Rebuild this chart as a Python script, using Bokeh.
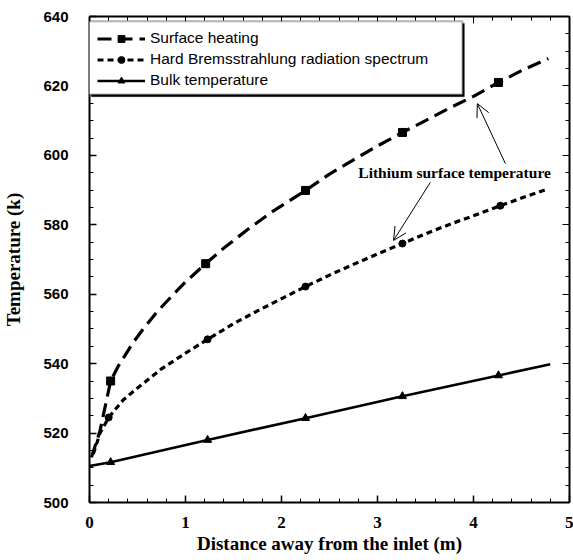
from bokeh.plotting import figure
from bokeh.models import (LinearAxis, Range1d, BoxAnnotation, Legend, LegendItem,
                          Arrow, OpenHead, FixedTicker, CustomJSTickFormatter)
from bokeh.core.properties import value
from bokeh.embed import file_html
from bokeh.resources import INLINE

# ---- data ----
surf_x = [0.02, 0.11, 0.22, 0.3, 0.45, 0.56, 0.7, 0.875, 1.0, 1.21, 1.4, 1.65, 1.9, 2.25,
          2.5, 2.75, 3.0, 3.26, 3.5, 3.75, 4.0, 4.26, 4.5, 4.78]
surf_t = [513.0, 520.7, 535.0, 539.3, 545.9, 550.0, 554.8, 560.0, 563.5, 568.8, 573.3, 578.7,
          583.7, 589.9, 594.6, 598.7, 602.7, 606.6, 610.0, 613.6, 617.0, 621.0, 624.4, 627.9]
surf_mx = [0.22, 1.21, 2.25, 3.26, 4.26]
surf_mt = [535.0, 568.8, 589.9, 606.6, 621.0]

brem_x = [0.04, 0.11, 0.2, 0.35, 0.5, 0.75, 1.0, 1.23, 1.5, 1.75, 2.0, 2.25, 2.5, 2.75,
          3.0, 3.26, 3.5, 3.75, 4.0, 4.28, 4.5, 4.78]
brem_t = [514.0, 520.0, 524.5, 529.5, 533.0, 538.5, 543.0, 547.0, 551.5, 555.2, 558.7, 562.2,
          565.5, 568.6, 571.6, 574.6, 577.4, 580.1, 582.6, 585.5, 587.7, 590.4]
brem_mx = [0.2, 1.23, 2.25, 3.26, 4.28]
brem_mt = [524.5, 547.0, 562.2, 574.6, 585.5]

bulk_x = [0.0, 0.22, 1.23, 2.25, 3.26, 4.26, 4.8]
bulk_t = [510.5, 511.6, 518.0, 524.3, 530.6, 536.6, 539.8]
bulk_mx = [0.22, 1.23, 2.25, 3.26, 4.26]
bulk_mt = [511.6, 518.0, 524.3, 530.6, 536.6]

x_ticks = [0, 1, 2, 3, 4, 5]
y_ticks = [500, 520, 540, 560, 580, 600, 620, 640]
x_minor = [i * 0.2 for i in range(26)]
y_minor = list(range(500, 641, 5))

labels = ["Surface heating", "Hard Bremsstrahlung radiation spectrum", "Bulk temperature"]
note = "Lithium surface temperature"

p = figure(width=573, height=560, output_backend="svg", toolbar_location=None,
           x_range=Range1d(0, 5), y_range=Range1d(500, 640),
           min_border_left=89, min_border_top=16, min_border_right=4, min_border_bottom=58,
           x_axis_label="Distance away from the inlet (m)", y_axis_label="Temperature (k)")
p.xgrid.visible = False
p.ygrid.visible = False
p.outline_line_color = None
p.background_fill_color = "white"
p.border_fill_color = "white"

p.xaxis.ticker = FixedTicker(ticks=x_ticks, minor_ticks=x_minor)
p.yaxis.ticker = FixedTicker(ticks=y_ticks, minor_ticks=y_minor)

for ax in p.xaxis + p.yaxis:
    ax.axis_line_width = 2
    ax.axis_line_color = "black"
    ax.major_tick_in = 7
    ax.major_tick_out = 0
    ax.minor_tick_in = 4
    ax.minor_tick_out = 0
    ax.major_tick_line_width = 1.5
    ax.major_tick_line_color = "black"
    ax.minor_tick_line_color = "black"
    ax.major_label_text_color = "black"
    ax.axis_label_text_font = "Liberation Serif"
    ax.axis_label_text_font_style = "bold"
    ax.axis_label_text_font_size = "19px"
    ax.axis_label_text_color = "black"

p.xaxis.major_label_text_font = "Liberation Serif"
p.xaxis.major_label_text_font_style = "bold"
p.xaxis.major_label_text_font_size = "17px"
p.xaxis.major_label_standoff = 14
p.xaxis.axis_label_standoff = 2

p.yaxis.major_label_text_font = "Liberation Sans"
p.yaxis.major_label_text_font_style = "bold"
p.yaxis.major_label_text_font_size = "15px"
p.yaxis.major_label_standoff = 21
p.yaxis.axis_label_standoff = 16

# mirrored axes (ticks only)
for loc, tk in (("right", FixedTicker(ticks=y_ticks, minor_ticks=y_minor)),
                ("above", FixedTicker(ticks=x_ticks, minor_ticks=x_minor))):
    ax = LinearAxis(ticker=tk, formatter=CustomJSTickFormatter(code="return ''"))
    ax.axis_line_width = 2
    ax.axis_line_color = "black"
    ax.major_tick_in = 7
    ax.major_tick_out = 0
    ax.minor_tick_in = 4
    ax.minor_tick_out = 0
    ax.major_label_standoff = 0
    p.add_layout(ax, loc)

# lines
r1 = p.line(surf_x, surf_t, line_color="black", line_width=3.2, line_dash="14 7")
m1 = p.scatter(surf_mx, surf_mt, marker="square", size=8, color="black")
r2 = p.line(brem_x, brem_t, line_color="black", line_width=3.2, line_dash="6 4")
m2 = p.scatter(brem_mx, brem_mt, marker="circle", size=7, color="black")
r3 = p.line(bulk_x, bulk_t, line_color="black", line_width=2.6)
m3 = p.scatter(bulk_mx, bulk_mt, marker="triangle", size=8, color="black")

# annotation
p.text(x=[2.80], y=[595.1], text=[note], text_font=value("Liberation Serif"),
       text_font_style="bold", text_font_size="15.5px", text_baseline="middle",
       text_align="left", text_color="black")
p.add_layout(Arrow(end=OpenHead(size=13, line_width=1), x_start=4.333, y_start=597.6,
                   x_end=4.04, y_end=614.9, line_width=1))
p.add_layout(Arrow(end=OpenHead(size=13, line_width=1), x_start=3.55, y_start=592.2,
                   x_end=3.167, y_end=575.5, line_width=1))

# legend box with shadow
p.add_layout(BoxAnnotation(left=0.02, right=3.905, top=638.0, bottom=616.9,
                           fill_color="black", fill_alpha=1, line_color="black"))
p.add_layout(BoxAnnotation(left=-0.01, right=3.885, top=638.6, bottom=617.5,
                           fill_color="white", fill_alpha=1, line_color="black", line_width=2))

legend = Legend(items=[LegendItem(label=labels[0], renderers=[r1, m1]),
                       LegendItem(label=labels[1], renderers=[r2, m2]),
                       LegendItem(label=labels[2], renderers=[r3, m3])],
                location=(2, 407), background_fill_alpha=0, border_line_alpha=0,
                padding=6, spacing=3, label_height=17, glyph_height=17, glyph_width=48,
                label_standoff=5, label_text_font="Liberation Sans", label_text_font_size="15.5px",
                label_text_color="black", margin=0)
p.add_layout(legend, "center")

open("out.html", "w").write(file_html(p, INLINE))
